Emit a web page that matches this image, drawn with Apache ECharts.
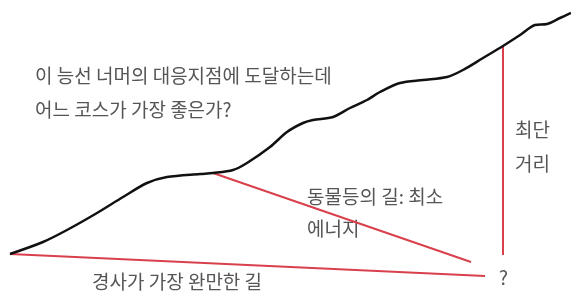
<!DOCTYPE html>
<html>
<head>
<meta charset="utf-8">
<script src="https://cdn.jsdelivr.net/npm/echarts@6/dist/echarts.min.js"></script>
<style>
    html, body { margin: 0; padding: 0; background: #fff; }
    #chart { width: 571px; height: 300px; }
</style>
</head>
<body>
<div id="chart"></div>
<script>
// 능선 (ridge) profile, x = horizontal distance, y = height
const ridgeX = [10, 43, 67, 97, 123, 147, 167, 200, 213, 233, 247, 270, 287, 303, 313, 333, 350, 367, 380, 400, 423, 447, 463, 483, 503, 520, 535, 547, 560, 571];
const ridgeY = [46, 58, 70, 87, 103, 117, 123, 126, 127, 130, 137, 153, 168, 177, 180, 183, 192, 200, 208, 217, 220, 223, 230, 242, 254, 265, 275, 276, 282, 287];

// routes: start point, end point
const gentleRoute = [[10, 46], [485, 24]];     // 경사가 가장 완만한 길
const animalRoute = [[213, 127], [471, 38]];   // 동물들의 길: 최소 에너지
const shortRoute = [[503, 254], [503, 45]];    // 최단 거리

const labels = {
    question1: '이 능선 너머의 대응지점에 도달하는데',
    question2: '어느 코스가 가장 좋은가?',
    shortest1: '최단',
    shortest2: '거리',
    animal1: '동물등의 길: 최소',
    animal2: '에너지',
    gentle: '경사가 가장 완만한 길',
    mark: '?'
};

let myChart = echarts.init(document.getElementById('chart'))

const redColor = '#d8404c'
const textColor = '#555555'
const fontFamily = '"Noto Sans CJK KR", "Noto Sans", sans-serif'

function routeSeries(data) {
    return {
        type: 'line',
        data: data,
        showSymbol: false,
        silent: true,
        lineStyle: { color: redColor, width: 2 }
    }
}

function textItem(x, y, text) {
    return {
        type: 'text',
        left: x,
        top: y,
        style: {
            text: text,
            fill: textColor,
            font: '19px ' + fontFamily
        }
    }
}

let option = {
    backgroundColor: '#ffffff',
    animation: false,
    grid: { left: 0, right: 0, top: 0, bottom: 0 },
    xAxis: { type: 'value', min: 0, max: 571, show: false },
    yAxis: { type: 'value', min: 0, max: 300, show: false },
    series: [
        routeSeries(gentleRoute),
        routeSeries(animalRoute),
        routeSeries(shortRoute),
        {
            type: 'line',
            data: ridgeX.map((x, i) => [x, ridgeY[i]]),
            smooth: 0.3,
            showSymbol: false,
            silent: true,
            lineStyle: { color: '#111111', width: 2.5 }
        }
    ],
    graphic: [
        textItem(35, 66, labels.question1),
        textItem(35, 100, labels.question2),
        textItem(515, 120, labels.shortest1),
        textItem(515, 154, labels.shortest2),
        textItem(307, 187, labels.animal1),
        textItem(307, 219, labels.animal2),
        textItem(92, 272, labels.gentle),
        textItem(499, 268, labels.mark)
    ]
};
myChart.setOption(option)
</script>
</body>
</html>
